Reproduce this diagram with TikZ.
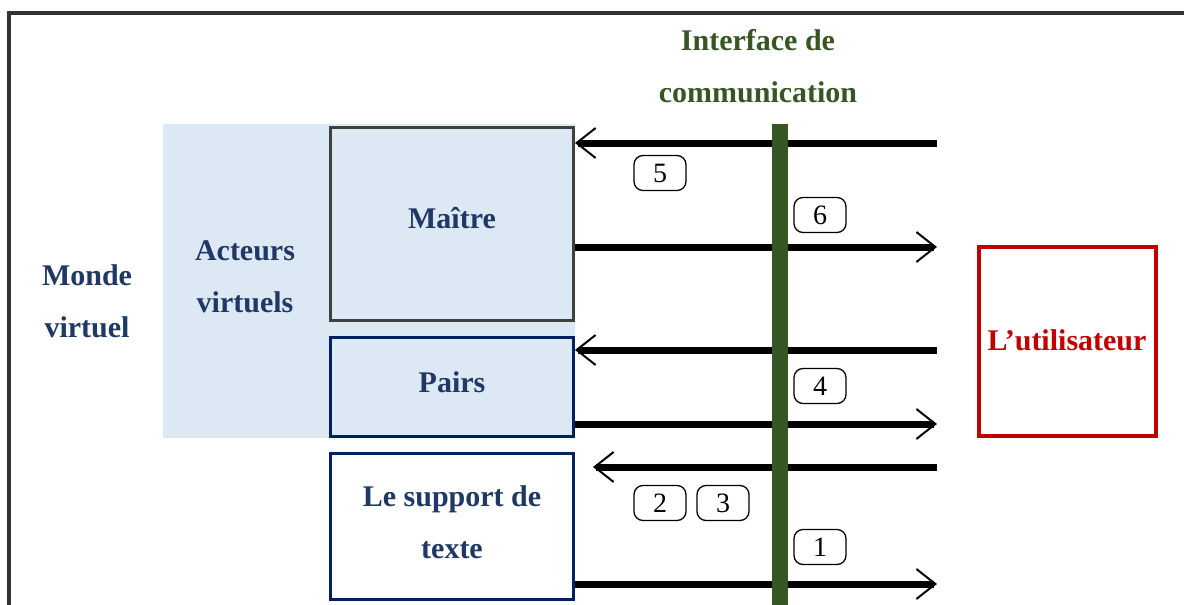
\documentclass[tikz,border=0pt]{standalone}
\usepackage{fontspec}
\setmainfont{Liberation Serif}
\usetikzlibrary{arrows.meta}
\definecolor{navy}{HTML}{1F3864}
\definecolor{navyline}{HTML}{002060}
\definecolor{ifgreen}{HTML}{375623}
\definecolor{userred}{HTML}{C00000}
\definecolor{lightblue}{HTML}{DDE8F5}
\definecolor{frame}{HTML}{333333}
\definecolor{boxgray}{HTML}{404040}
\tikzset{
  bigtext/.style={font=\fontsize{30}{52}\selectfont\bfseries, align=center, inner sep=0pt},
  actorbox/.style={draw, line width=3pt, inner sep=0pt, minimum width=243pt},
  flow/.style={line width=7pt, -{Straight Barb[length=19pt,width=30pt,line width=2pt]}},
  numtag/.style={draw, line width=1.3pt, rounded corners=9pt, minimum width=52pt, minimum height=35pt, inner sep=0pt, font=\fontsize{28}{28}\selectfont},
}
\begin{document}
\begin{tikzpicture}[x=1pt,y=-1pt]
\useasboundingbox (0,0) rectangle (1184,605);
% frame
\draw[frame, line width=4pt] (9,605) -- (9,13) -- (1184,13);
% light blue background for virtual actors
\node[fill=lightblue, inner sep=0pt, minimum width=412pt, minimum height=314pt] (bg) at (369,281) {};
\node[bigtext, text=navy] (acteurs) at (245,277) {Acteurs\\virtuels};
\node[bigtext, text=navy] (monde) at (87,301) {Monde\\virtuel};
% actor boxes
\node[actorbox, draw=boxgray, fill=lightblue, minimum height=193pt] (maitre) at (452,223.5) {};
\node[bigtext, text=navy] (maitretxt) at (452,218) {Maître};
\node[actorbox, draw=navyline, fill=lightblue, minimum height=99pt] (pairs) at (452,386.5) {};
\node[bigtext, text=navy] (pairstxt) at (452,382) {Pairs};
\node[actorbox, draw=navyline, fill=white, minimum height=146pt] (support) at (452,526) {};
\node[bigtext, text=navy] (supporttxt) at (452,522) {Le support de\\texte};
% user
\node[draw=userred, line width=4pt, minimum width=177pt, minimum height=189pt, inner sep=0pt] (user) at (1067.5,341.5) {};
\node[bigtext, text=userred] (usertxt) at (1067,340) {L’utilisateur};
% interface title
\node[bigtext, text=ifgreen] (iftitle) at (758,66) {Interface de\\communication};
% flow coordinates on the user side
\coordinate (r5) at (937,143);
\coordinate (r6) at (937,247);
\coordinate (r4a) at (937,350);
\coordinate (r4b) at (937,424);
\coordinate (r23) at (937,467);
\coordinate (r1) at (937,584);
\coordinate (t23) at (593,467);
% flows
\draw[flow] (r5) -- (r5 -| maitre.east);
\draw[flow] (r6 -| maitre.east) -- (r6);
\draw[flow] (r4a) -- (r4a -| pairs.east);
\draw[flow] (r4b -| pairs.east) -- (r4b);
\draw[flow] (r23) -- (t23);
\draw[flow] (r1 -| support.east) -- (r1);
% interface bar
\node[fill=ifgreen, inner sep=0pt, minimum width=16pt, minimum height=481pt] (bar) at (780,364.5) {};
% numbered tags
\node[numtag] (n5) at (660,173) {5};
\node[numtag] (n6) at (820,215) {6};
\node[numtag] (n4) at (820,386) {4};
\node[numtag] (n2) at (660,503) {2};
\node[numtag] (n3) at (723,503) {3};
\node[numtag] (n1) at (820,547) {1};
\end{tikzpicture}
\end{document}
